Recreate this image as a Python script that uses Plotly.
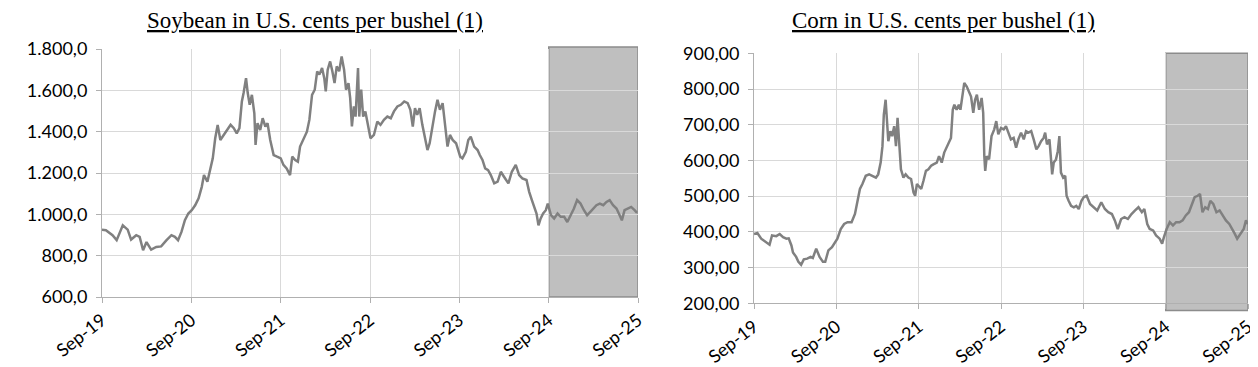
import plotly.graph_objects as go

# ---------------- data ----------------
soy_dates = [
    "2019-09-01", "2019-09-17", "2019-10-14", "2019-10-31", "2019-11-25", "2019-12-15", "2019-12-29",
    "2020-01-19", "2020-02-02", "2020-02-16", "2020-03-01", "2020-03-20", "2020-04-10", "2020-04-30",
    "2020-05-21", "2020-06-11", "2020-06-25", "2020-07-08", "2020-07-22", "2020-08-05", "2020-08-19",
    "2020-09-02", "2020-09-16", "2020-09-30", "2020-10-13", "2020-10-22", "2020-11-05", "2020-11-19",
    "2020-11-27", "2020-12-07", "2020-12-17", "2020-12-28", "2021-01-11", "2021-01-25", "2021-02-08",
    "2021-02-21", "2021-03-05", "2021-03-16", "2021-03-26", "2021-04-02", "2021-04-12", "2021-04-19",
    "2021-04-27", "2021-05-06", "2021-05-16", "2021-05-21", "2021-05-29", "2021-06-09", "2021-06-19",
    "2021-06-30", "2021-07-09", "2021-07-20", "2021-08-03", "2021-08-17", "2021-09-01", "2021-09-12",
    "2021-09-25", "2021-10-09", "2021-10-18", "2021-10-30", "2021-11-10", "2021-11-19", "2021-12-03",
    "2021-12-17", "2021-12-27", "2022-01-07", "2022-01-18", "2022-01-28", "2022-02-06", "2022-02-17",
    "2022-02-26", "2022-03-04", "2022-03-12", "2022-03-22", "2022-03-31", "2022-04-09", "2022-04-18",
    "2022-04-28", "2022-05-08", "2022-05-18", "2022-05-26", "2022-06-05", "2022-06-12", "2022-06-19",
    "2022-06-27", "2022-07-04", "2022-07-14", "2022-07-19", "2022-07-27", "2022-08-04", "2022-08-13",
    "2022-08-23", "2022-09-03", "2022-09-17", "2022-10-01", "2022-10-14", "2022-10-28", "2022-11-11",
    "2022-11-25", "2022-12-08", "2022-12-22", "2023-01-05", "2023-01-19", "2023-02-02", "2023-02-13",
    "2023-02-23", "2023-03-04", "2023-03-13", "2023-03-23", "2023-04-03", "2023-04-14", "2023-04-24",
    "2023-05-03", "2023-05-14", "2023-05-25", "2023-06-04", "2023-06-14", "2023-06-25", "2023-07-04",
    "2023-07-15", "2023-07-25", "2023-08-05", "2023-08-19", "2023-09-05", "2023-09-14", "2023-09-28",
    "2023-10-08", "2023-10-18", "2023-11-01", "2023-11-15", "2023-11-24", "2023-12-05", "2023-12-16",
    "2023-12-28", "2024-01-08", "2024-01-22", "2024-02-05", "2024-02-18", "2024-03-02", "2024-03-20",
    "2024-04-03", "2024-04-19", "2024-05-03", "2024-05-16", "2024-06-02", "2024-06-13", "2024-06-24",
    "2024-07-04", "2024-07-13", "2024-07-21", "2024-07-30", "2024-08-09", "2024-08-20", "2024-08-28",
    "2024-09-10", "2024-09-23", "2024-10-07", "2024-10-20", "2024-11-03", "2024-11-16", "2024-11-30",
    "2024-12-13", "2024-12-26", "2025-01-09", "2025-01-23", "2025-02-05", "2025-02-18", "2025-03-02",
    "2025-03-15", "2025-03-29", "2025-04-12", "2025-04-25", "2025-05-08", "2025-05-22", "2025-06-05",
    "2025-06-18", "2025-06-27", "2025-07-08", "2025-07-21", "2025-08-04", "2025-08-18", "2025-08-28",
]
soy_values = [
    925, 923, 899, 875, 947, 926, 878,
    899, 891, 826, 866, 829, 842, 845,
    874, 899, 891, 875, 915, 972, 1004,
    1020, 1044, 1077, 1133, 1190, 1158, 1222,
    1271, 1368, 1433, 1360, 1384, 1408, 1433,
    1417, 1392, 1417, 1546, 1587, 1659, 1587,
    1530, 1578, 1489, 1336, 1441, 1408, 1465,
    1425, 1441, 1360, 1287, 1279, 1271, 1239,
    1222, 1190, 1279, 1263, 1255, 1328, 1368,
    1400, 1457, 1578, 1603, 1692, 1676, 1708,
    1659, 1595, 1700, 1740, 1692, 1635, 1716,
    1692, 1764, 1700, 1603, 1635, 1562, 1425,
    1522, 1473, 1708, 1473, 1603, 1473, 1498,
    1441, 1368, 1384, 1449, 1433, 1457, 1473,
    1465, 1498, 1522, 1530, 1546, 1538, 1506,
    1425, 1514, 1481, 1514, 1433, 1376, 1311,
    1344, 1425, 1498, 1554, 1506, 1538, 1441,
    1328, 1384, 1360, 1344, 1279, 1271, 1303,
    1360, 1376, 1328, 1311, 1287, 1263, 1222,
    1214, 1190, 1150, 1158, 1206, 1182, 1150,
    1206, 1239, 1190, 1174, 1166, 1109, 1069,
    1028, 1004, 947, 980, 1004, 1020, 1052,
    996, 980, 1004, 988, 988, 963, 996,
    1028, 1069, 1052, 1020, 996, 1012, 1028,
    1044, 1052, 1044, 1060, 1069, 1044, 1028,
    996, 971, 1020, 1028, 1036, 1020, 1007,
]

corn_dates = [
    "2019-09-01", "2019-09-16", "2019-10-03", "2019-10-25", "2019-11-09", "2019-11-20", "2019-12-09",
    "2019-12-24", "2020-01-08", "2020-01-23", "2020-02-02", "2020-02-14", "2020-02-21", "2020-03-06",
    "2020-03-16", "2020-03-28", "2020-04-09", "2020-04-24", "2020-05-09", "2020-05-19", "2020-06-03",
    "2020-06-18", "2020-07-03", "2020-07-13", "2020-07-27", "2020-08-12", "2020-08-24", "2020-09-05",
    "2020-09-20", "2020-10-05", "2020-10-20", "2020-11-07", "2020-11-22", "2020-12-04", "2020-12-14",
    "2020-12-25", "2021-01-09", "2021-01-24", "2021-02-08", "2021-02-23", "2021-03-05", "2021-03-16",
    "2021-03-24", "2021-03-30", "2021-04-07", "2021-04-13", "2021-04-19", "2021-04-28", "2021-05-06",
    "2021-05-15", "2021-05-23", "2021-05-30", "2021-06-07", "2021-06-14", "2021-06-25", "2021-07-05",
    "2021-07-17", "2021-07-29", "2021-08-09", "2021-08-16", "2021-08-24", "2021-09-01", "2021-09-12",
    "2021-09-22", "2021-10-03", "2021-10-14", "2021-10-26", "2021-11-05", "2021-11-20", "2021-11-30",
    "2021-12-12", "2021-12-23", "2022-01-03", "2022-01-13", "2022-01-22", "2022-01-30", "2022-02-06",
    "2022-02-16", "2022-02-26", "2022-03-05", "2022-03-15", "2022-03-22", "2022-04-02", "2022-04-11",
    "2022-04-21", "2022-05-01", "2022-05-09", "2022-05-17", "2022-05-27", "2022-06-07", "2022-06-14",
    "2022-06-19", "2022-06-23", "2022-06-30", "2022-07-10", "2022-07-21", "2022-08-02", "2022-08-11",
    "2022-08-20", "2022-09-01", "2022-09-13", "2022-09-23", "2022-10-03", "2022-10-15", "2022-10-27",
    "2022-11-07", "2022-11-17", "2022-11-29", "2022-12-11", "2022-12-21", "2023-01-01", "2023-01-13",
    "2023-01-24", "2023-02-05", "2023-02-15", "2023-02-26", "2023-03-09", "2023-03-16", "2023-03-24",
    "2023-04-04", "2023-04-11", "2023-04-16", "2023-04-23", "2023-05-03", "2023-05-11", "2023-05-18",
    "2023-05-25", "2023-06-04", "2023-06-13", "2023-06-19", "2023-06-28", "2023-07-09", "2023-07-21",
    "2023-08-01", "2023-08-12", "2023-08-24", "2023-09-03", "2023-09-16", "2023-10-01", "2023-10-17",
    "2023-11-02", "2023-11-20", "2023-12-06", "2023-12-21", "2024-01-06", "2024-01-19", "2024-02-01",
    "2024-02-16", "2024-03-02", "2024-03-17", "2024-04-02", "2024-04-18", "2024-05-03", "2024-05-18",
    "2024-05-29", "2024-06-11", "2024-06-22", "2024-07-07", "2024-07-20", "2024-08-05", "2024-08-16",
    "2024-08-24", "2024-09-05", "2024-09-19", "2024-10-03", "2024-10-17", "2024-11-01", "2024-11-15",
    "2024-11-29", "2024-12-13", "2024-12-27", "2025-01-07", "2025-01-21", "2025-01-31", "2025-02-11",
    "2025-02-23", "2025-03-07", "2025-03-18", "2025-03-31", "2025-04-14", "2025-04-28", "2025-05-12",
    "2025-05-26", "2025-06-10", "2025-06-24", "2025-07-04", "2025-07-15", "2025-07-29", "2025-08-13",
    "2025-08-23", "2025-09-01",
]
corn_values = [
    394, 397, 381, 371, 364, 390, 388,
    394, 385, 381, 382, 362, 342, 330,
    316, 308, 323, 325, 330, 327, 353,
    330, 316, 316, 348, 357, 371, 381,
    408, 422, 427, 427, 450, 487, 520,
    534, 557, 561, 557, 552, 561, 594,
    640, 728, 770, 724, 654, 682, 668,
    696, 640, 719, 650, 575, 552, 561,
    552, 548, 510, 501, 534, 529, 520,
    543, 571, 575, 585, 589, 594, 612,
    594, 622, 636, 650, 663, 742, 756,
    742, 756, 742, 793, 817, 807, 793,
    779, 733, 770, 784, 742, 775, 733,
    612, 571, 612, 603, 668, 687, 710,
    673, 691, 687, 696, 678, 659, 663,
    636, 659, 678, 659, 682, 678, 682,
    659, 631, 640, 654, 663, 678, 645,
    659, 603, 561, 594, 603, 626, 668,
    566, 552, 557, 501, 487, 473, 469,
    473, 464, 487, 497, 501, 478, 469,
    460, 483, 464, 455, 450, 432, 408,
    436, 441, 436, 450, 460, 469, 455,
    464, 422, 408, 404, 390, 381, 367,
    385, 408, 427, 418, 427, 427, 432,
    446, 455, 478, 497, 501, 506, 455,
    469, 464, 487, 478, 455, 460, 446,
    432, 422, 408, 395, 381, 395, 408,
    432, 422,
]

x_start, x_end = "2019-09-01", "2025-09-01"
shade_start, shade_end = "2024-09-01", "2025-09-01"
soy_range = [600, 1800]
corn_range = [200, 900]
soy_shade = [600, 1810]
corn_shade = [180, 900]

# ---------------- styling ----------------
LINE = "#808080"
GRID = "#D9D9D9"
AXIS = "#B0B0B0"
TICKFONT = dict(family="Lato, Liberation Sans, sans-serif", size=18, color="#000000")

# the page body has an 8px margin: figure covers page pixels 8..1258 x 8..367
FIG_W, FIG_H, OFF = 1250, 359, 8


def px(xp):
    return (xp - OFF) / FIG_W


def py(yp):
    return (OFF + FIG_H - yp) / FIG_H


soy_dom_x = [px(102), px(638)]
soy_dom_y = [py(297), py(49)]
corn_dom_x = [px(754), px(1248)]
corn_dom_y = [py(303.3), py(53.3)]


def to_paper(v, rng, dom):
    return dom[0] + (v - rng[0]) / (rng[1] - rng[0]) * (dom[1] - dom[0])


fig = go.Figure()
fig.add_trace(go.Scatter(x=soy_dates, y=soy_values, mode="lines",
                         line=dict(color=LINE, width=2.5), xaxis="x", yaxis="y",
                         hoverinfo="skip"))
fig.add_trace(go.Scatter(x=corn_dates, y=corn_values, mode="lines",
                         line=dict(color=LINE, width=2.5), xaxis="x2", yaxis="y2",
                         hoverinfo="skip"))

xcommon = dict(type="date", tickformat="%b-%y", dtick="M12", tick0=x_start,
               tickangle=-38, showgrid=True, gridcolor=GRID, gridwidth=1,
               showline=True, linecolor=AXIS, linewidth=1,
               ticks="outside", ticklen=5, tickcolor=AXIS, automargin=False,
               tickfont=TICKFONT, zeroline=False, range=[x_start, x_end])
ycommon = dict(showgrid=True, gridcolor=GRID, gridwidth=1,
               showline=True, linecolor=AXIS, linewidth=1,
               ticks="outside", ticklen=5, tickcolor=AXIS, automargin=False,
               ticklabelstandoff=5,
               tickfont=TICKFONT, zeroline=False)

fig.update_layout(
    width=FIG_W, height=FIG_H,
    margin=dict(l=0, r=0, t=0, b=0, autoexpand=False),
    paper_bgcolor="white", plot_bgcolor="white",
    separators=",.",
    showlegend=False,
    xaxis=dict(domain=soy_dom_x, anchor="y", **xcommon),
    yaxis=dict(domain=soy_dom_y, anchor="x", range=soy_range, dtick=200,
               tickformat=",.1f", **ycommon),
    xaxis2=dict(domain=corn_dom_x, anchor="y2", **xcommon),
    yaxis2=dict(domain=corn_dom_y, anchor="x2", range=corn_range, dtick=100,
                tickformat=",.2f", **ycommon),
    shapes=[
        dict(type="rect", xref="x", yref="paper", layer="between",
             x0=shade_start, x1=shade_end,
             y0=to_paper(soy_shade[0], soy_range, soy_dom_y),
             y1=to_paper(soy_shade[1], soy_range, soy_dom_y),
             fillcolor="#BFBFBF", line=dict(color="#8C8C8C", width=1.5)),
        dict(type="rect", xref="x2", yref="paper", layer="between",
             x0=shade_start, x1=shade_end,
             y0=to_paper(corn_shade[0], corn_range, corn_dom_y),
             y1=to_paper(corn_shade[1], corn_range, corn_dom_y),
             fillcolor="#BFBFBF", line=dict(color="#8C8C8C", width=1.5)),
    ],
    annotations=[
        dict(text="<u>Soybean in U.S. cents per bushel (1)</u>", xref="paper", yref="paper",
             x=px(315), y=py(20), xanchor="center", yanchor="middle",
             showarrow=False, font=dict(family="Liberation Serif", size=23, color="#000000")),
        dict(text="<u>Corn in U.S. cents per bushel (1)</u>", xref="paper", yref="paper",
             x=px(943.5), y=py(20), xanchor="center", yanchor="middle",
             showarrow=False, font=dict(family="Liberation Serif", size=23, color="#000000")),
    ],
)

fig.write_html("out.html")
